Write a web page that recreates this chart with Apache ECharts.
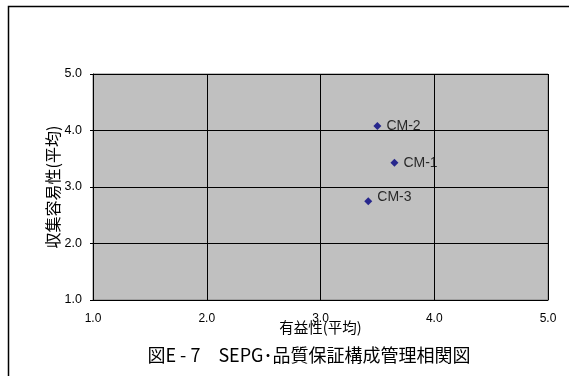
<!DOCTYPE html>
<html>
<head>
<meta charset="utf-8">
<script src="https://cdn.jsdelivr.net/npm/echarts@6/dist/echarts.min.js"></script>
<style>
    html, body { margin: 0; padding: 0; background: #fff; }
    #chart { width: 569px; height: 376px; }
</style>
</head>
<body>
<div id="chart"></div>
<script>
    // データ
    const names = ['CM-1', 'CM-2', 'CM-3'];
    const usefulness = [3.65, 3.50, 3.42];   // 有益性(平均)
    const easeOfCollect = [3.43, 4.08, 2.75]; // 収集容易性(平均)

    const jpFont = '"Noto Sans CJK JP", sans-serif';
    const numFont = '"Liberation Sans", Arial, sans-serif';

    let chart = echarts.init(document.getElementById('chart'));
    let points = names.map(function (n, i) {
        let p = { name: n, value: [usefulness[i], easeOfCollect[i]] };
        // CM-3 のラベルは少し上
        if (n === 'CM-3') p.label = { offset: [0, -4] };
        return p;
    });

    let option = {
        animation: false,
        backgroundColor: '#fff',
        title: {
            text: '図E - 7　SEPG･品質保証構成管理相関図',
            left: 304,
            top: 341,
            textAlign: 'center',
            textStyle: { fontFamily: jpFont, fontSize: 18, fontWeight: 'normal', color: '#000' }
        },
        graphic: [
            {
                type: 'polyline',
                shape: { points: [[8.5, 380], [8.5, 6.5], [575, 6.5]] },
                style: { stroke: '#000', lineWidth: 1.5, fill: null }
            }
        ],
        grid: {
            left: 93, top: 74, width: 455, height: 226,
            show: true,
            backgroundColor: '#c0c0c0',
            borderColor: '#808080',
            borderWidth: 1
        },
        xAxis: {
            type: 'value',
            min: 1, max: 5, interval: 1,
            name: '有益性(平均)',
            nameLocation: 'middle',
            nameGap: 20,
            nameMoveOverlap: false,
            nameTextStyle: { fontFamily: jpFont, fontSize: 14.5, color: '#000' },
            axisLine: { show: true, onZero: false, lineStyle: { color: '#000', width: 1 } },
            axisTick: { show: false },
            axisLabel: {
                fontFamily: numFont, fontSize: 12, color: '#000', margin: 13,
                formatter: function (v) { return v.toFixed(1); }
            },
            splitLine: { show: true, lineStyle: { color: '#000', width: 1 } }
        },
        yAxis: {
            type: 'value',
            min: 1, max: 5, interval: 1,
            name: '収集容易性(平均)',
            nameLocation: 'middle',
            nameGap: 32,
            nameRotate: 90,
            nameMoveOverlap: false,
            nameTextStyle: { fontFamily: jpFont, fontSize: 16, color: '#000' },
            axisLine: { show: true, onZero: false, lineStyle: { color: '#000', width: 1 } },
            axisTick: { show: true, length: 3, inside: false, lineStyle: { color: '#000' } },
            axisLabel: {
                fontFamily: numFont, fontSize: 12.5, color: '#000', margin: 11,
                formatter: function (v) { return v.toFixed(1); }
            },
            splitLine: { show: true, lineStyle: { color: '#000', width: 1 } }
        },
        series: [
            {
                type: 'scatter',
                data: points,
                symbol: 'diamond',
                symbolSize: 8,
                itemStyle: { color: '#000080' },
                label: {
                    show: true,
                    position: 'right',
                    distance: 5,
                    formatter: '{b}',
                    fontFamily: numFont,
                    fontSize: 14,
                    color: '#000'
                }
            }
        ]
    };
    chart.setOption(option);
</script>
</body>
</html>
